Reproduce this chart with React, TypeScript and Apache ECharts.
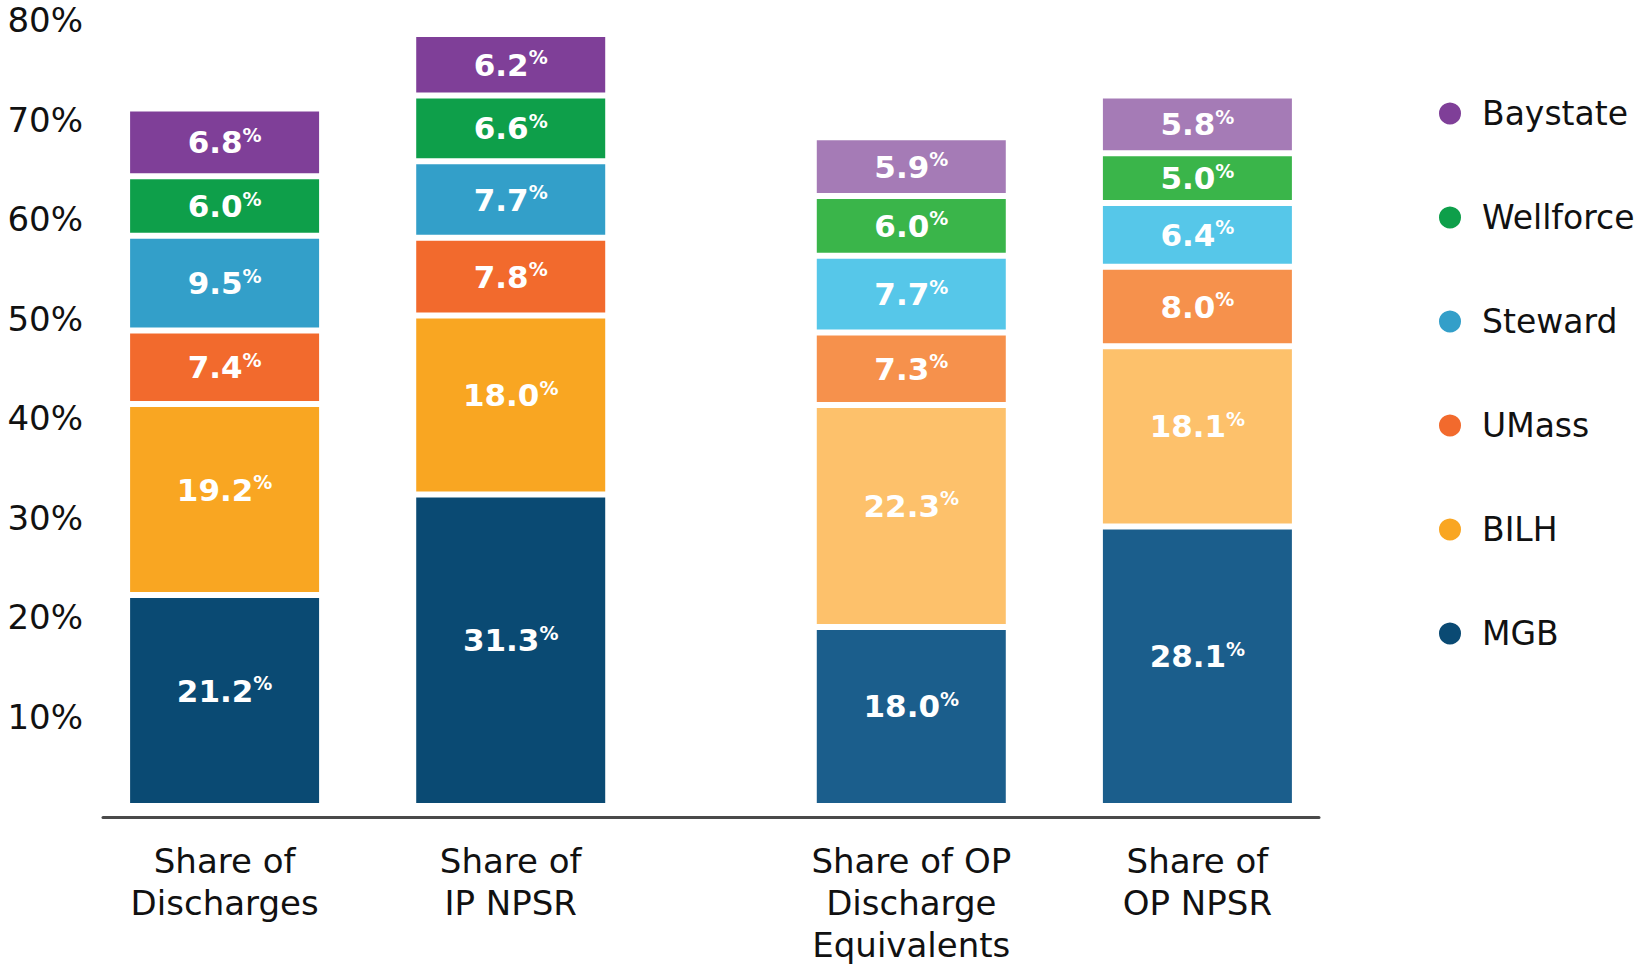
import React, { useEffect, useRef } from 'react';
import * as echarts from 'echarts';

// ---- data ----
const barLabels = [
  'Share of\nDischarges',
  'Share of\nIP NPSR',
  'Share of OP\nDischarge\nEquivalents',
  'Share of\nOP NPSR',
];
const systems = ['MGB', 'BILH', 'UMass', 'Steward', 'Wellforce', 'Baystate'];
const mgb = [21.2, 31.3, 18.0, 28.1];
const bilh = [19.2, 18.0, 22.3, 18.1];
const umass = [7.4, 7.8, 7.3, 8.0];
const steward = [9.5, 7.7, 7.7, 6.4];
const wellforce = [6.0, 6.6, 6.0, 5.0];
const baystate = [6.8, 6.2, 5.9, 5.8];
const values = [mgb, bilh, umass, steward, wellforce, baystate];
const legendOrder = ['Baystate', 'Wellforce', 'Steward', 'UMass', 'BILH', 'MGB'];

// ---- styles / layout ----
const ipColors = ['#0A4A73', '#F9A622', '#F26A2D', '#339FC9', '#0E9F4A', '#7F3F98'];
const opColors = ['#1B5E8C', '#FDC16B', '#F6914C', '#56C7E9', '#3AB54A', '#A57BB6'];
const isOutpatient = [false, false, true, true];
const SLOT_COUNT = 85;
const barSlots = [8, 28, 56, 76];
const FONT = 'DejaVu Sans';

export default function App() {
  const ref = useRef<HTMLDivElement>(null);
  useEffect(() => {
    if (!ref.current) return;
    const chart = echarts.init(ref.current, undefined, { renderer: 'svg' });
    const categories = Array.from({ length: SLOT_COUNT }, (_, i) => 'slot' + i);

    const series = systems.map((name, si) => {
      const data: any[] = Array.from({ length: SLOT_COUNT }, () => '-');
      barSlots.forEach((slot, bi) => {
        const v = values[si][bi];
        data[slot] = isOutpatient[bi]
          ? { value: v, itemStyle: { color: opColors[si] } }
          : v;
      });
      return {
        name,
        type: 'bar',
        stack: 'share',
        barWidth: 195,
        data,
        itemStyle: { color: ipColors[si], borderColor: '#ffffff', borderWidth: 3 },
        label: {
          show: true,
          position: 'inside',
          offset: si < 2 ? [0, -10] : [0, 0],
          formatter: (p: any) => `{v|${Number(p.value).toFixed(1)}}{s|%}`,
          rich: {
            v: { fontFamily: FONT, fontSize: 31, fontWeight: 'bold', color: '#fff', lineHeight: 34 },
            s: { fontFamily: FONT, fontSize: 19, fontWeight: 'bold', color: '#fff', lineHeight: 22, verticalAlign: 'top' },
          },
        },
        emphasis: { disabled: true },
      };
    });

    chart.setOption({
      animation: false,
      backgroundColor: '#ffffff',
      grid: { left: 103, right: 320, top: 10, bottom: 164, containLabel: false, outerBoundsMode: 'none' },
      legend: {
        data: legendOrder,
        orient: 'vertical',
        left: 1432,
        top: 92,
        icon: 'circle',
        itemWidth: 24,
        itemHeight: 24,
        itemGap: 71,
        selectedMode: false,
        textStyle: { fontFamily: FONT, fontSize: 33, color: '#111', padding: [0, 0, 0, 15] },
      },
      xAxis: {
        type: 'category',
        data: categories,
        offset: 11,
        axisLine: { onZero: false, lineStyle: { color: '#4a4a4a', width: 3 } },
        axisTick: { show: false },
        axisLabel: {
          interval: 0,
          margin: 23,
          fontFamily: FONT,
          fontSize: 34,
          lineHeight: 42,
          color: '#111',
          formatter: (_v: string, i: number) => {
            const k = barSlots.indexOf(i);
            return k >= 0 ? barLabels[k] : '';
          },
        },
      },
      yAxis: {
        type: 'value',
        min: 0,
        max: 80,
        interval: 10,
        splitLine: { show: false },
        axisLine: { show: false },
        axisTick: { show: false },
        axisLabel: {
          margin: 20,
          formatter: (v: number) => (v === 0 ? '' : `{a|${v}%}`),
          rich: {
            a: { fontFamily: FONT, fontSize: 34, color: '#111', padding: [20, 0, 0, 0] },
          },
        },
      },
      series,
    });
    return () => chart.dispose();
  }, []);
  return (
    <div
      ref={ref}
      style={{ position: 'fixed', left: 0, top: 0, width: 1639, height: 970, background: '#fff' }}
    />
  );
}
